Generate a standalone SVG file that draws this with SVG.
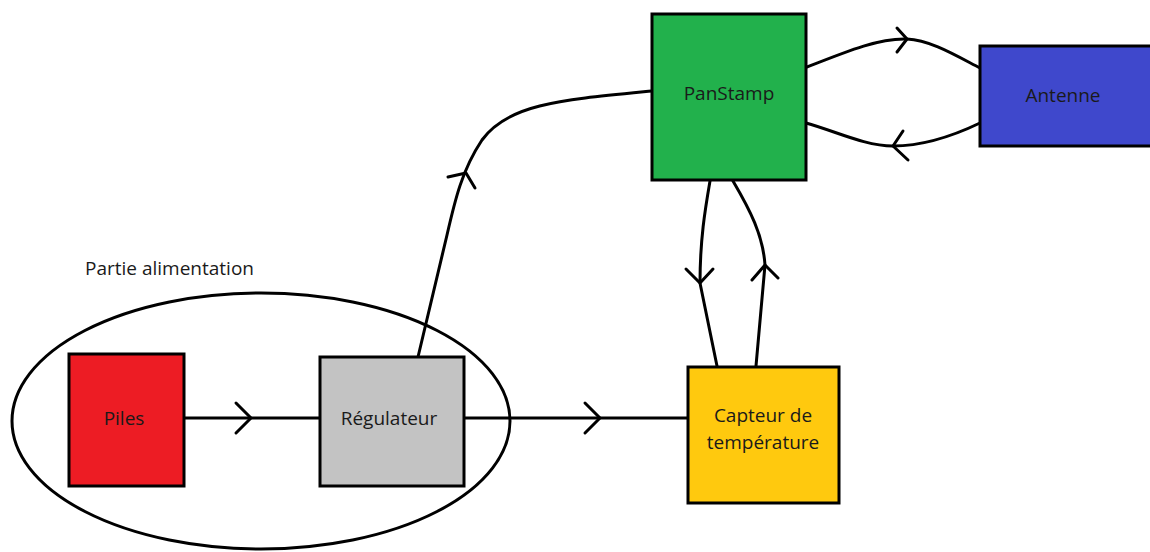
<svg xmlns="http://www.w3.org/2000/svg" width="1150" height="552" viewBox="0 0 1150 552">
<style>
.box{stroke:#000;stroke-width:3}
.lbl{font-family:"Open Sans","Liberation Sans",sans-serif;font-size:19px;fill:#1a1a1a;text-anchor:middle;dominant-baseline:central}
.ln{fill:none;stroke:#000;stroke-width:3;stroke-linecap:round;stroke-linejoin:round}
</style>
<rect width="1150" height="552" fill="#fff"/>
<g id="partie-alimentation">
<ellipse cx="261" cy="421" rx="249" ry="128" fill="none" stroke="#000" stroke-width="3"/>
<text x="85" y="268" class="lbl" style="text-anchor:start">Partie alimentation</text>
</g>
<g id="connectors">
<path class="ln" d="M184,418 L320,418"/>
<path class="ln" d="M236,403 L251,418 L236,433"/>
<path class="ln" d="M464,418 L688,418"/>
<path class="ln" d="M585,403 L600,418 L585,433"/>
<path class="ln" d="M418,357 L447,235 C455,200 462,170 482,140 C508,104 560,100 652,91"/>
<path class="ln" d="M448,177 L466,173 L475,188"/>
<path class="ln" d="M807,67 C850,50 880,38 907,39 C930,40 955,55 980,68"/>
<path class="ln" d="M897,28 L907,39 L897,52"/>
<path class="ln" d="M980,123 C955,135 925,146 893,146 C865,146 835,131 806,123"/>
<path class="ln" d="M903,131 L893,146 L908,160"/>
<path class="ln" d="M710,181 C705,210 700,240 700,283 L717,366"/>
<path class="ln" d="M686,269 L700,283 L713,269"/>
<path class="ln" d="M756,366 L765,265 C763,235 750,210 733,181"/>
<path class="ln" d="M752,280 L765,265 L778,278"/>
</g>
<g id="piles">
<rect class="box" x="69" y="354" width="115" height="132" fill="#ED1C24"/>
<text class="lbl" x="124" y="418">Piles</text>
</g>
<g id="regulateur">
<rect class="box" x="320" y="357" width="144" height="129" fill="#C3C3C3"/>
<text class="lbl" x="389" y="418">Régulateur</text>
</g>
<g id="panstamp">
<rect class="box" x="652" y="14" width="154" height="166" fill="#22B14C"/>
<text class="lbl" x="729" y="93">PanStamp</text>
</g>
<g id="antenne">
<rect class="box" x="980" y="46" width="172" height="100" fill="#3F48CC"/>
<text class="lbl" x="1063" y="95">Antenne</text>
</g>
<g id="capteur">
<rect class="box" x="688" y="367" width="151" height="136" fill="#FFC90E"/>
<text class="lbl" x="763" y="415">Capteur de</text>
<text class="lbl" x="763" y="442">température</text>
</g>
</svg>
